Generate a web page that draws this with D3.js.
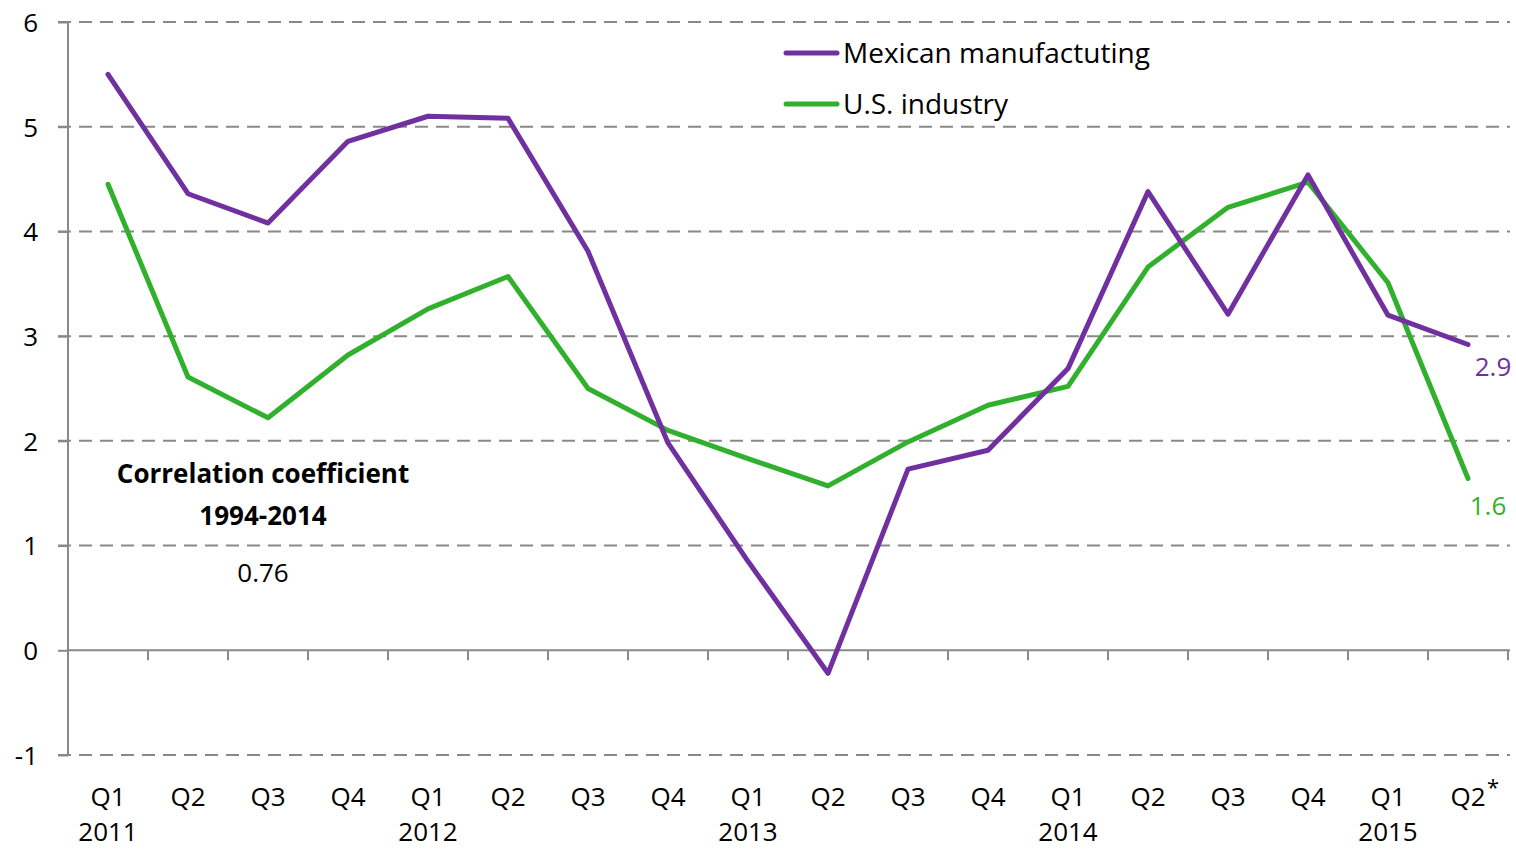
<!DOCTYPE html>
<html><head><meta charset="utf-8">
<script src="https://cdn.jsdelivr.net/npm/d3@7"></script>
<style>body{margin:0;background:#fff;} text{font-family:"Open Sans",Lato,sans-serif;}</style>
</head><body>
<svg id="c" width="1516" height="849"></svg>
<script>
const quarters = ["Q1","Q2","Q3","Q4","Q1","Q2","Q3","Q4","Q1","Q2","Q3","Q4","Q1","Q2","Q3","Q4","Q1","Q2"];
const years = ["2011","","","","2012","","","","2013","","","","2014","","","","2015",""];
const mexican = [5.50,4.36,4.08,4.86,5.10,5.08,3.81,1.98,0.85,-0.22,1.73,1.91,2.69,4.38,3.21,4.54,3.20,2.92];
const usIndustry = [4.45,2.61,2.22,2.82,3.26,3.57,2.50,2.10,1.83,1.57,1.99,2.34,2.52,3.66,4.23,4.47,3.51,1.64];
const yTicks = [-1,0,1,2,3,4,5,6];
const seriesNames = ["Mexican manufactuting","U.S. industry"];
const endLabels = ["2.9","1.6"];
const corrLines = ["Correlation coefficient","1994-2014"];
const corrValue = "0.76";

const FS = 26;
const svg = d3.select("#c");
const idx = d3.range(quarters.length);
const x = d3.scaleBand().domain(idx).range([68,1508]);
const y = d3.scaleLinear().domain([-1,6]).range([755,22]);
const cx = i => x(i) + x.bandwidth()/2;
const gray = "#898989";
const purple = "#7030a0", green = "#31b02d";

// grid
svg.append("g").selectAll("line").data(yTicks.filter(v=>v!==0)).join("line")
  .attr("x1",58).attr("x2",1510).attr("y1",d=>y(d)).attr("y2",d=>y(d))
  .attr("stroke",gray).attr("stroke-width",2).attr("stroke-dasharray","13,8");

// y axis
const yAxis = svg.append("g").attr("transform","translate(68,0)")
  .call(d3.axisLeft(y).tickValues(yTicks).tickSize(10).tickFormat(d => String(d)));
yAxis.select(".domain").attr("stroke",gray).attr("stroke-width",2).attr("d","M0,"+y(-1)+"V"+y(6));
yAxis.selectAll(".tick line").attr("stroke",gray).attr("stroke-width",2);
yAxis.selectAll(".tick text").attr("x",-30).attr("dy","0.36em").attr("font-size",FS).attr("fill","#000")
  .style("font-family","'Open Sans',sans-serif");

// x axis at zero
const boundaries = d3.range(1, quarters.length+1).map(i => 68 + i*x.bandwidth());
const xg = svg.append("g");
xg.append("line").attr("x1",68).attr("x2",1510).attr("y1",y(0)).attr("y2",y(0)).attr("stroke",gray).attr("stroke-width",2);
xg.selectAll("line.t").data(boundaries).join("line").attr("class","t")
  .attr("x1",d=>d).attr("x2",d=>d).attr("y1",y(0)).attr("y2",y(0)+10).attr("stroke",gray).attr("stroke-width",2);

// category labels
const lab = svg.append("g");
lab.selectAll("text.q").data(quarters).join("text").attr("class","q")
  .attr("x",(d,i)=>cx(i)).attr("y",806).attr("text-anchor","middle").attr("font-size",FS).text(d=>d);
lab.selectAll("text.yr").data(years.filter(d=>d)).join("text").attr("class","yr")
  .attr("x",d=>cx(years.indexOf(d))).attr("y",841).attr("text-anchor","middle").attr("font-size",FS).text(d=>d);
lab.append("text").attr("x",cx(quarters.length-1)+19).attr("y",795).attr("font-size",22).text("*");

// lines
const line = d3.line().x((d,i)=>cx(i)).y(d=>y(d));
svg.append("path").datum(usIndustry).attr("d",line).attr("fill","none").attr("stroke",green).attr("stroke-width",5).attr("stroke-linejoin","round").attr("stroke-linecap","round");
svg.append("path").datum(mexican).attr("d",line).attr("fill","none").attr("stroke",purple).attr("stroke-width",5).attr("stroke-linejoin","round").attr("stroke-linecap","round");

// end labels
const last = quarters.length-1;
svg.append("text").attr("x",cx(last)+25).attr("y",y(mexican[last])+31).attr("text-anchor","middle").attr("font-size",FS).attr("fill",purple).text(endLabels[0]);
svg.append("text").attr("x",cx(last)+20).attr("y",y(usIndustry[last])+36).attr("text-anchor","middle").attr("font-size",FS).attr("fill",green).text(endLabels[1]);

// legend
const leg = svg.append("g");
[purple, green].forEach((c,i)=>{
  const ly = 53 + i*51;
  leg.append("line").attr("x1",786).attr("x2",837).attr("y1",ly).attr("y2",ly).attr("stroke",c).attr("stroke-width",5).attr("stroke-linecap","round");
  leg.append("text").attr("x",843).attr("y",ly+10).attr("font-size",28).text(seriesNames[i]);
});

// correlation annotation
svg.append("text").attr("x",263).attr("y",483).attr("text-anchor","middle").attr("font-size",FS).attr("font-weight","bold").text(corrLines[0]);
svg.append("text").attr("x",263).attr("y",525).attr("text-anchor","middle").attr("font-size",FS).attr("font-weight","bold").text(corrLines[1]);
svg.append("text").attr("x",263).attr("y",582).attr("text-anchor","middle").attr("font-size",FS).text(corrValue);
</script>
</body></html>
